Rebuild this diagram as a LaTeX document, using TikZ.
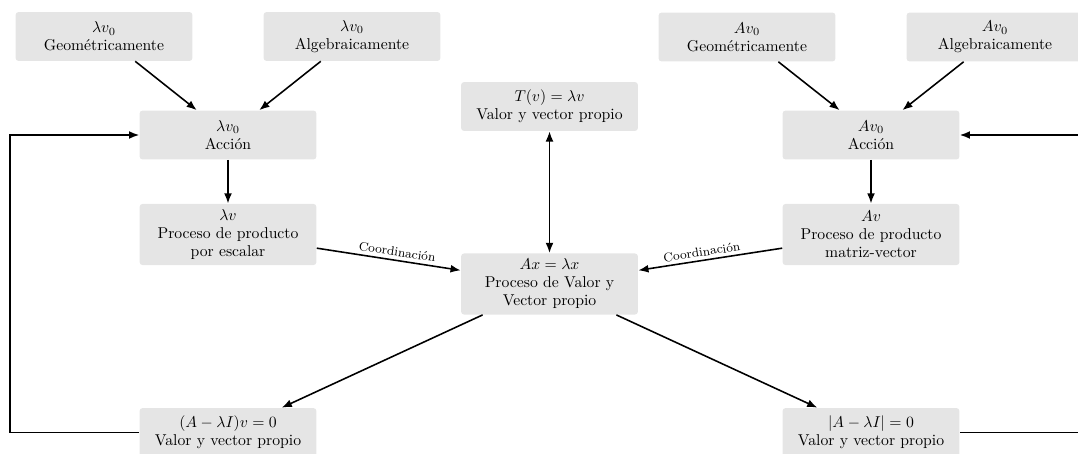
\documentclass[tikz,border=0pt]{standalone}
\usetikzlibrary{arrows.meta}
\begin{document}
\begin{tikzpicture}[x=0.637pt,y=-0.637pt,
  box/.style={fill=black!10,rounded corners=2pt,align=center,
    minimum width=112.7pt,minimum height=31.2pt,inner sep=2pt,
    font=\fontsize{10}{11.5}\selectfont},
  tall/.style={box,minimum height=39pt},
  tip/.tip={Latex[length=6.5pt,width=5pt]},
  arr/.style={-tip,line width=1pt},
  darr/.style={tip-tip,line width=1pt},
  lbl/.style={font=\footnotesize,sloped,above,inner sep=2pt}]
\useasboundingbox (0,0) rectangle (1078,453);
\clip (0,0) rectangle (1078,453);

% left branch: scalar times vector
\node[box] (gl) at (104,36.5) {$\lambda v_0$\\Geométricamente};
\node[box] (al) at (352,36.5) {$\lambda v_0$\\Algebraicamente};
\node[box] (accl) at (228,135) {$\lambda v_0$\\Acción};
\node[tall] (prodl) at (228,234.5) {$\lambda v$\\Proceso de producto\\por escalar};
\node[box] (bl) at (228,432.5) {$(A-\lambda I)v=0$\\Valor y vector propio};

% centre
\node[box] (top) at (549.5,106.5) {$T(v)=\lambda v$\\Valor y vector propio};
\node[tall] (ax) at (549.5,284) {$Ax=\lambda x$\\Proceso de Valor y\\Vector propio};

% right branch: matrix times vector
\node[box] (gr) at (747,37) {$Av_0$\\Geométricamente};
\node[box] (ar) at (995,37) {$Av_0$\\Algebraicamente};
\node[box] (accr) at (871,135) {$Av_0$\\Acción};
\node[tall] (prodr) at (871,234.5) {$Av$\\Proceso de producto\\matriz-vector};
\node[box] (br) at (871,432.5) {$|A-\lambda I|=0$\\Valor y vector propio};

% corners of the feedback loops
\coordinate (cl) at (10,135);
\coordinate (cr) at (1089,135);

% connectors
\draw[arr] (gl) -- (accl);
\draw[arr] (al) -- (accl);
\draw[arr] (accl) -- (prodl);
\draw[arr] (prodl) -- node[lbl,pos=0.55] {Coordinación} (ax);

\draw[arr] (gr) -- (accr);
\draw[arr] (ar) -- (accr);
\draw[arr] (accr) -- (prodr);
\draw[arr] (prodr) -- node[lbl,pos=0.55] {Coordinación} (ax);

\draw[darr] (top) -- (ax);
\draw[arr] (ax) -- (bl);
\draw[arr] (ax) -- (br);

\draw[arr] (bl.west) -| (cl) -- (accl.west);
\draw[arr] (br.east) -| (cr) -- (accr.east);
\end{tikzpicture}
\end{document}
